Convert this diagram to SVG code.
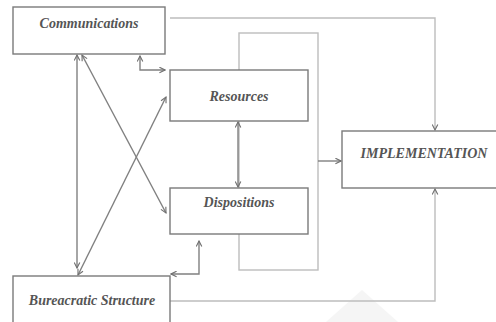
<svg xmlns="http://www.w3.org/2000/svg" width="496" height="322" viewBox="0 0 496 322">
<defs>
<style>
.box{fill:#fff;stroke:#7a7a7a;stroke-width:1.4}
.lbl{font-family:"Liberation Serif","Times New Roman",serif;font-weight:bold;font-style:italic;font-size:14px;fill:#555;text-anchor:middle}
.ln{fill:none;stroke:#808080;stroke-width:1.4}
.lt{fill:none;stroke:#bdbdbd;stroke-width:1.4}
</style>
<marker id="ah" viewBox="0 0 10 10" refX="9" refY="5" markerWidth="7" markerHeight="7" orient="auto-start-reverse" markerUnits="userSpaceOnUse">
<path d="M1,1 L9,5 L1,9" fill="none" stroke="#707070" stroke-width="1.6"/>
</marker>
</defs>
<rect width="496" height="322" fill="#fff"/>
<polygon points="362,290 326,322 398,322" fill="#f5f5f5"/>
<g id="connectors">
<rect x="239" y="33" width="79" height="237" class="lt"/>
<polyline points="170,18 435,18 435,130" class="lt" marker-end="url(#ah)"/>
<polyline points="170,301 435,301 435,189" class="lt" marker-end="url(#ah)"/>
<line x1="318" y1="161" x2="341" y2="161" class="ln" marker-end="url(#ah)"/>
<polyline points="140,56 140,70 165,70" class="ln" marker-start="url(#ah)" marker-end="url(#ah)"/>
<line x1="238" y1="122" x2="238" y2="187" class="ln" marker-start="url(#ah)" marker-end="url(#ah)"/>
<line x1="77" y1="55" x2="77" y2="268" class="ln" marker-start="url(#ah)" marker-end="url(#ah)"/>
<line x1="82" y1="55" x2="166" y2="213" class="ln" marker-start="url(#ah)" marker-end="url(#ah)"/>
<line x1="78" y1="275" x2="166" y2="97" class="ln" marker-start="url(#ah)" marker-end="url(#ah)"/>
<polyline points="199,241 199,274 171,274" class="ln" marker-start="url(#ah)" marker-end="url(#ah)"/>
</g>
<g id="communications">
<rect x="13" y="7" width="152" height="47" class="box"/>
<text x="89" y="28" class="lbl">Communications</text>
</g>
<g id="resources">
<rect x="170" y="70" width="138" height="51" class="box"/>
<text x="239" y="101" class="lbl">Resources</text>
</g>
<g id="dispositions">
<rect x="170" y="188" width="138" height="46" class="box"/>
<text x="239" y="207" class="lbl">Dispositions</text>
</g>
<g id="implementation">
<rect x="342" y="131" width="160" height="57" class="box"/>
<text x="424" y="158" class="lbl">IMPLEMENTATION</text>
</g>
<g id="bureaucratic">
<rect x="13" y="276" width="157" height="52" class="box"/>
<text x="92" y="305" class="lbl">Bureacratic Structure</text>
</g>
</svg>
